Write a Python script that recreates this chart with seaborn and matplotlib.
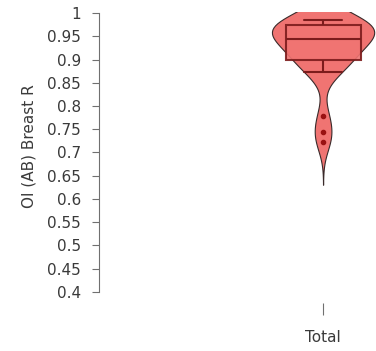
import matplotlib
matplotlib.use("Agg")
import matplotlib.pyplot as plt
import matplotlib.patches as mpatches
import seaborn as sns
import pandas as pd

# Per-case correlation values for the "Total" group
group_labels = ["Total"]
r_values = [
    0.723, 0.744, 0.779,
    0.873, 0.880, 0.890, 0.898, 0.905, 0.915, 0.925, 0.932, 0.940,
    0.944, 0.948, 0.952, 0.958, 0.962, 0.968, 0.974, 0.976, 0.978,
    0.980, 0.982, 0.984, 0.985,
]
y_ticks = [0.4, 0.45, 0.5, 0.55, 0.6, 0.65, 0.7, 0.75, 0.8, 0.85, 0.9, 0.95, 1.0]
y_tick_labels = ["0.4", "0.45", "0.5", "0.55", "0.6", "0.65", "0.7", "0.75",
                 "0.8", "0.85", "0.9", "0.95", "1"]

df = pd.DataFrame({"group": group_labels * len(r_values), "r": r_values})

sns.set_theme(style="white")
plt.rcParams["font.family"] = ["DejaVu Sans"]

fill = "#f07472"
dark = "#7c1c1c"
text_col = "#3a3a3a"
axis_col = "#707070"

fig = plt.figure(figsize=(3.76, 3.51), dpi=100)
ax = fig.add_axes([0.2633, 0.1368, 0.7367, 0.8575])

sns.violinplot(data=df, x="group", y="r", ax=ax, color=fill, inner=None,
               width=0.73, bw_adjust=0.8, cut=3, linewidth=0.8,
               linecolor="#3a2a2a", saturation=1)
# the density outline is cut off at the top of the scale
clip = mpatches.Rectangle((-5, 0.0), 10, 1.002, transform=ax.transData)
for coll in ax.collections:
    coll.set_clip_path(clip)

sns.boxplot(data=df, x="group", y="r", ax=ax, color=fill, width=0.535,
            linewidth=1.5, linecolor=dark, saturation=1, whis=1.5,
            flierprops=dict(marker="o", markersize=3, markerfacecolor="#9a1212",
                            markeredgecolor="#9a1212"),
            boxprops=dict(alpha=0.9))

ax.set_ylim(0.3763, 1.0237)
ax.set_xlim(-1.6, 0.378)
ax.set_yticks(y_ticks)
ax.set_yticklabels(y_tick_labels)

for s in ["top", "right", "bottom"]:
    ax.spines[s].set_visible(False)
ax.spines["left"].set_bounds(0.4, 1.0)
ax.spines["left"].set_color(axis_col)
ax.spines["left"].set_linewidth(0.8)

ax.tick_params(axis="y", which="major", left=True, length=5, width=0.8,
               color=axis_col, pad=8, labelsize=11, labelcolor=text_col)
ax.tick_params(axis="x", which="major", bottom=True, length=8.5, width=0.8,
               color=axis_col, pad=11, labelsize=11, labelcolor=text_col)

ax.set_xlabel("")
ax.set_ylabel("OI (AB) Breast R", fontsize=11, color=text_col)
ax.yaxis.set_label_coords(-0.224, 0.52)
ax.grid(False)

fig.savefig("out.png", dpi=100, facecolor="white")
